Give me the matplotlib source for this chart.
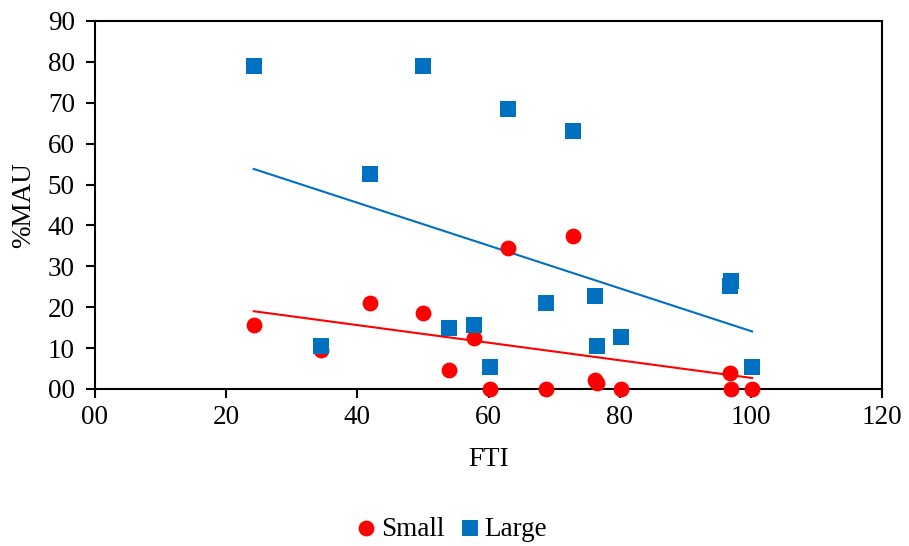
import matplotlib
matplotlib.use("Agg")
import matplotlib.pyplot as plt
import numpy as np

plt.rcParams['font.family'] = ['Liberation Serif', 'DejaVu Serif']

fti = [24.2, 34.5, 41.9, 50.0, 54.0, 57.8, 60.2, 63.0, 68.8, 72.9, 76.2, 76.5, 80.2, 96.8, 96.9, 100.2]
small = [15.6, 9.5, 21.0, 18.7, 4.6, 12.4, 0.0, 34.4, 0.0, 37.4, 2.1, 1.5, 0.0, 3.8, 0.0, 0.0]
large = [79.0, 10.5, 52.5, 79.0, 15.0, 15.7, 5.3, 68.4, 21.0, 63.1, 22.8, 10.5, 12.6, 25.3, 26.3, 5.3]

x_ticks = [0, 20, 40, 60, 80, 100, 120]
x_labels = ["00", "20", "40", "60", "80", "100", "120"]
y_ticks = [0, 10, 20, 30, 40, 50, 60, 70, 80, 90]
y_labels = ["00", "10", "20", "30", "40", "50", "60", "70", "80", "90"]

red = "#FF0000"
blue = "#0070C0"
fs = 19.5

fig = plt.figure(figsize=(9.09, 5.46), dpi=100)
ax = fig.add_axes([95/909, 1-389/546, (882-95)/909, (389-21)/546])

x = np.array(fti)
ax.scatter(x, small, s=130, marker='o', color=red, label='Small', zorder=3, linewidths=0, clip_on=False)
ax.scatter(x, large, s=130, marker='s', color=blue, label='Large', zorder=3, linewidths=0, clip_on=False)

xs = np.array([x.min(), x.max()])
for ys, c in ((small, red), (large, blue)):
    p = np.polyfit(x, ys, 1)
    ax.plot(xs, np.polyval(p, xs), color=c, lw=1.5, zorder=2)

ax.set_xlim(0, 120)
ax.set_ylim(0, 90)
ax.set_xticks(x_ticks)
ax.set_xticklabels(x_labels)
ax.set_yticks(y_ticks)
ax.set_yticklabels(y_labels)
for s in ax.spines.values():
    s.set_linewidth(1.5)
    s.set_color('black')
ax.tick_params(axis='both', direction='out', length=6.5, width=1.5, labelsize=fs)
ax.tick_params(axis='x', pad=5)
ax.tick_params(axis='y', pad=8)
ax.set_xlabel("FTI", fontsize=fs, labelpad=12)
ax.set_ylabel("%MAU", fontsize=fs, labelpad=8)

fig.legend(loc='center', bbox_to_anchor=(0.497, 1-529/546), ncol=2, frameon=False,
           fontsize=fs, handletextpad=0.2, handlelength=0.7, columnspacing=0.6,
           markerscale=1.0, borderpad=0)

fig.savefig("out.png", dpi=100)
